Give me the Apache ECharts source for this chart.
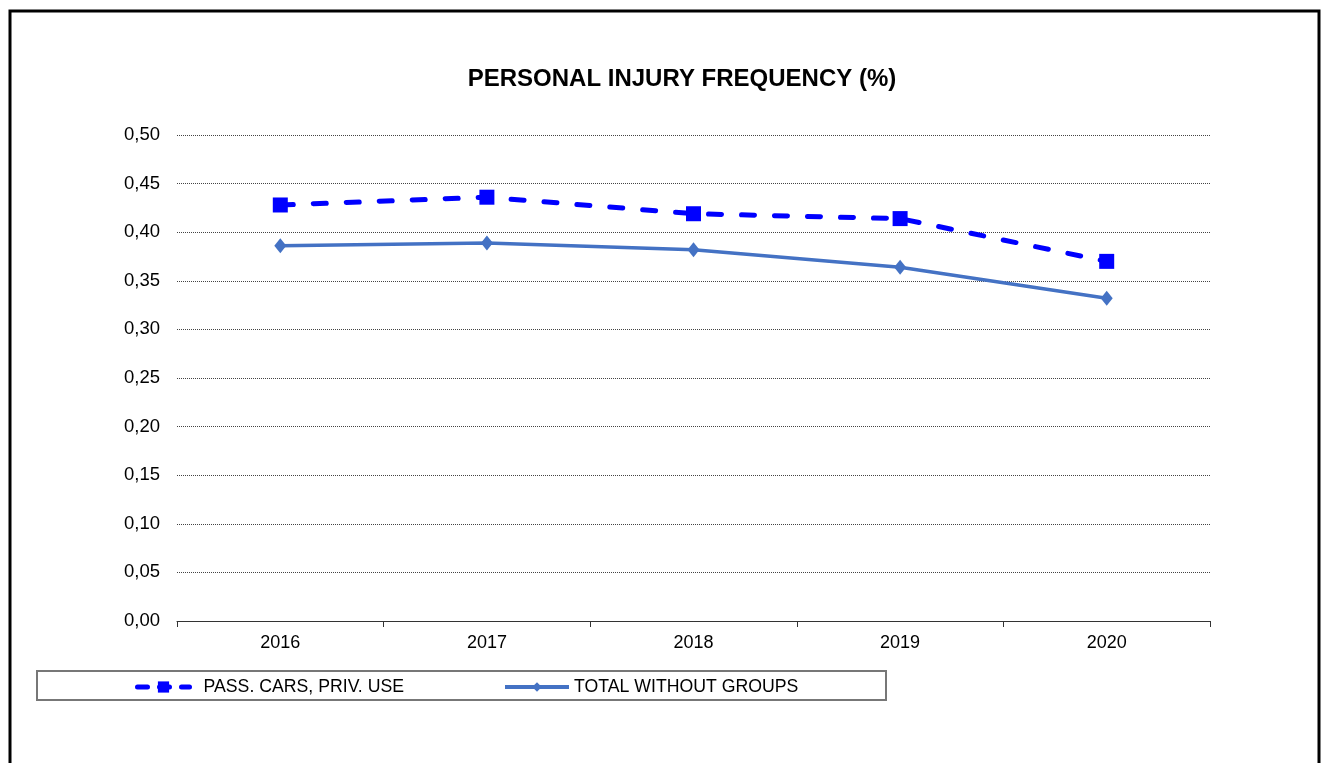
<!DOCTYPE html>
<html>
<head>
<meta charset="utf-8">
<script src="https://cdn.jsdelivr.net/npm/echarts@6/dist/echarts.min.js"></script>
<style>
html, body { margin: 0; padding: 0; background: #fff; }
#chart { width: 1322px; height: 763px; }
</style>
</head>
<body>
<div id="chart"></div>
<script>
var chart = echarts.init(document.getElementById('chart'), null, { renderer: 'canvas' });

var years = ['2016', '2017', '2018', '2019', '2020'];
var passCars = [0.428, 0.436, 0.419, 0.414, 0.370];   // PASS. CARS, PRIV. USE
var totalNoGroups = [0.386, 0.389, 0.382, 0.364, 0.332]; // TOTAL WITHOUT GROUPS

var FONT = '"Liberation Sans", Arial, sans-serif';

chart.setOption({
    animation: false,
    title: {
        text: 'PERSONAL INJURY FREQUENCY (%)',
        left: 677,
        textAlign: 'center',
        top: 62,
        textStyle: { fontFamily: FONT, fontSize: 24, fontWeight: 'bold', color: '#000' }
    },
    // outer frame + legend box
    graphic: [
        {
            type: 'rect',
            shape: { x: 10, y: 11, width: 1309, height: 800 },
            style: { fill: 'none', stroke: '#000', lineWidth: 3 }
        },
        {
            type: 'rect',
            shape: { x: 37, y: 671, width: 849, height: 29 },
            style: { fill: 'none', stroke: '#777', lineWidth: 2 }
        }
    ],
    legend: [
        {
            data: ['PASS. CARS, PRIV. USE'],
            left: 135,
            top: 678,
            padding: 0,
            itemWidth: 52,
            itemHeight: 14,
            lineStyle: { width: 5, type: [10, 12], cap: 'round' },
            textStyle: { fontFamily: FONT, fontSize: 17.7, color: '#000', padding: [0, 0, 0, 9] }
        },
        {
            data: ['TOTAL WITHOUT GROUPS'],
            left: 503,
            top: 678,
            padding: 0,
            itemWidth: 64,
            itemHeight: 12,
            lineStyle: { width: 4 },
            textStyle: { fontFamily: FONT, fontSize: 17.7, color: '#000', padding: [0, 0, 0, 0] }
        }
    ],
    grid: { left: 177, right: 112, top: 135, bottom: 142 },
    xAxis: {
        type: 'category',
        data: years,
        boundaryGap: true,
        axisLine: { lineStyle: { color: '#333', width: 1 } },
        axisTick: { show: true, length: 6, alignWithLabel: false, lineStyle: { color: '#333' } },
        axisLabel: { fontFamily: FONT, fontSize: 18, color: '#000', margin: 13 }
    },
    yAxis: {
        type: 'value',
        min: 0,
        max: 0.5,
        interval: 0.05,
        axisLine: { show: false },
        axisTick: { show: false },
        axisLabel: {
            fontFamily: FONT, fontSize: 18.5, color: '#000', margin: 17,
            formatter: function (v) { return v.toFixed(2).replace('.', ','); }
        },
        splitLine: { lineStyle: { color: '#444', type: [1, 1], width: 1 } }
    },
    series: [
        {
            name: 'PASS. CARS, PRIV. USE',
            type: 'line',
            data: passCars,
            symbol: 'rect',
            symbolSize: 15,
            color: '#0000ff',
            lineStyle: { color: '#0000ff', width: 5, type: [13, 20], cap: 'round' },
            itemStyle: { color: '#0000ff' },
            z: 3
        },
        {
            name: 'TOTAL WITHOUT GROUPS',
            type: 'line',
            data: totalNoGroups,
            symbol: 'diamond',
            symbolSize: [12, 15],
            color: '#4472c4',
            lineStyle: { color: '#4472c4', width: 3.5 },
            itemStyle: { color: '#4472c4' },
            z: 2
        }
    ]
});
</script>
</body>
</html>
